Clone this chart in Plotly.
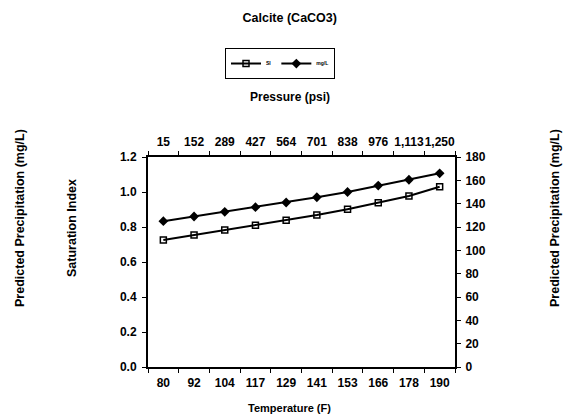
import plotly.graph_objects as go

temperature_f = ["80", "92", "104", "117", "129", "141", "153", "166", "178", "190"]
pressure_psi = ["15", "152", "289", "427", "564", "701", "838", "976", "1,113", "1,250"]
saturation_index = [0.726, 0.755, 0.783, 0.810, 0.839, 0.868, 0.902, 0.938, 0.977, 1.030]
precip_mg_l = [125.0, 129.0, 133.0, 137.0, 141.0, 145.5, 150.0, 155.5, 160.5, 166.0]

FONT = "Liberation Sans, Arial, Helvetica, sans-serif"

fig = go.Figure()
fig.add_trace(go.Scatter(
    x=temperature_f, y=saturation_index, name="SI", mode="lines+markers",
    line=dict(color="black", width=2),
    marker=dict(symbol="square-open", size=6, color="black", line=dict(width=1.5)),
    xaxis="x", yaxis="y"))
fig.add_trace(go.Scatter(
    x=pressure_psi, y=precip_mg_l, name="mg/L", mode="lines+markers",
    line=dict(color="black", width=2),
    marker=dict(symbol="diamond", size=7.5, color="black"),
    xaxis="x2", yaxis="y2"))

tickfont = dict(family=FONT, size=12, color="black", weight="bold")
common_x = dict(type="category", range=[-0.5, 9.5], showline=True, linecolor="black",
                linewidth=2, ticks="outside", ticklen=4, tickcolor="black",
                tickson="boundaries", showgrid=False, zeroline=False, tickfont=tickfont,
                tickangle=0, automargin=False, fixedrange=True, ticklabelstandoff=4)
common_y = dict(showline=True, linecolor="black", linewidth=2, ticks="outside", ticklen=4,
                tickcolor="black", showgrid=False, zeroline=False, tickfont=tickfont,
                automargin=False, fixedrange=True)

fig.update_layout(
    width=567, height=419,
    margin=dict(l=148, r=112, t=157, b=52, autoexpand=False),
    paper_bgcolor="white", plot_bgcolor="white",
    font=dict(family=FONT, color="black"),
    xaxis=dict(**common_x, side="bottom", categoryorder="array", categoryarray=temperature_f),
    xaxis2=dict(**common_x, side="top", overlaying="x", anchor="y",
                categoryorder="array", categoryarray=pressure_psi),
    yaxis=dict(**common_y, range=[0, 1.2], dtick=0.2, tickformat=".1f", ticklabelstandoff=3),
    yaxis2=dict(**common_y, range=[0, 180], dtick=20, overlaying="y", side="right", anchor="x",
                ticklabelstandoff=2),
    showlegend=True,
    legend=dict(orientation="h", x=0.43, y=1.519, xanchor="center", yanchor="top",
                bordercolor="black", borderwidth=1, bgcolor="white",
                font=dict(family=FONT, size=5, color="black", weight="bold"),
                itemwidth=30, tracegroupgap=0),
    title=dict(text="<b>Calcite (CaCO3)</b>", x=0.511, xanchor="center",
               y=1 - 18 / 419, yanchor="middle",
               font=dict(family=FONT, size=12.5, color="black")),
)

ann_font = dict(family=FONT, size=12.5, color="black")
fig.add_annotation(text="<b>Pressure (psi)</b>", xref="paper", yref="paper",
                   x=0.4625, y=1.2857, showarrow=False, font=dict(family=FONT, size=12, color="black"),
                   xanchor="center", yanchor="middle")
fig.add_annotation(text="<b>Temperature (F)</b>", xref="paper", yref="paper",
                   x=0.4625, y=-0.195, showarrow=False, font=dict(family=FONT, size=11, color="black"),
                   xanchor="center", yanchor="middle")
fig.add_annotation(text="<b>Saturation Index</b>", xref="paper", yref="paper",
                   x=-0.2476, y=0.662, showarrow=False, font=ann_font, textangle=-90,
                   xanchor="center", yanchor="middle")
fig.add_annotation(text="<b>Predicted Precipitation (mg/L)</b>", xref="paper", yref="paper",
                   x=-0.417, y=0.7095, showarrow=False, font=ann_font, textangle=-90,
                   xanchor="center", yanchor="middle")
fig.add_annotation(text="<b>Predicted Precipitation (mg/L)</b>", xref="paper", yref="paper",
                   x=1.3257, y=0.7095, showarrow=False, font=ann_font, textangle=-90,
                   xanchor="center", yanchor="middle")

fig.write_html("out.html", config={"displayModeBar": False},
               post_script="document.body.style.margin='0';document.body.style.overflow='hidden';")
